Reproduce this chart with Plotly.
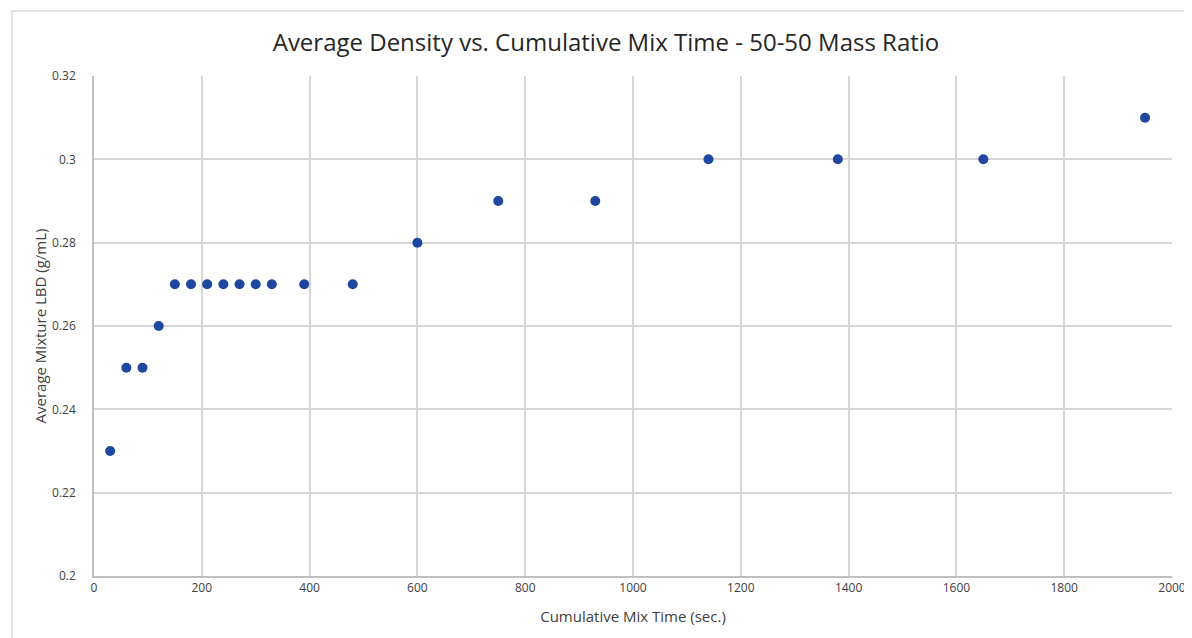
import plotly.graph_objects as go

mix_time = [30, 60, 90, 120, 150, 180, 210, 240, 270, 300, 330, 390, 480, 600, 750, 930, 1140, 1380, 1650, 1950]
density = [0.23, 0.25, 0.25, 0.26, 0.27, 0.27, 0.27, 0.27, 0.27, 0.27, 0.27, 0.27, 0.27, 0.28, 0.29, 0.29, 0.30, 0.30, 0.30, 0.31]

x_ticks = [0, 200, 400, 600, 800, 1000, 1200, 1400, 1600, 1800, 2000]
y_ticks = [0.2, 0.22, 0.24, 0.26, 0.28, 0.3, 0.32]
y_labels = ["0.2", "0.22", "0.24", "0.26", "0.28", "0.3", "0.32"]

OFF = 8  # browser body margin
W, H = 1192 - OFF, 638 - OFF
L, R, T, B = 94 - OFF, 1172 - OFF, 76 - OFF, 576 - OFF

fig = go.Figure(go.Scatter(
    x=mix_time, y=density, mode="markers",
    marker=dict(color="#1F47A0", size=10, line=dict(width=0)),
    showlegend=False,
))

font = "Open Sans, Liberation Sans, sans-serif"
fig.update_layout(
    width=W, height=H,
    margin=dict(l=L, r=W - R, t=T, b=H - B, pad=0, autoexpand=False),
    paper_bgcolor="white", plot_bgcolor="white",
    font=dict(family=font, color="#404040", size=12),
    title=dict(text="Average Density vs. Cumulative Mix Time - 50-50 Mass Ratio",
               x=(606 - OFF) / W, xanchor="center", xref="container",
               y=1 - (43 - OFF) / H, yanchor="middle", yref="container",
               font=dict(size=24, color="#262626", family=font)),
    xaxis=dict(range=[0, 2000], tickvals=x_ticks, showgrid=True, gridcolor="#D6D6D6",
               gridwidth=1.5, zeroline=False, showline=True, linecolor="#BFBFBF", linewidth=1.5,
               ticks="", tickfont=dict(size=12, color="#404040"), automargin=False,
               title=dict(text="Cumulative Mix Time (sec.)", font=dict(size=15, color="#404040"), standoff=16)),
    yaxis=dict(range=[0.2, 0.32], tickvals=y_ticks, ticktext=y_labels, showgrid=True,
               gridcolor="#D6D6D6", gridwidth=1.5, zeroline=False, showline=True,
               linecolor="#BFBFBF", linewidth=1.5, ticks="", ticklabelstandoff=14,
               tickfont=dict(size=12, color="#404040"), automargin=False,
               title=dict(text="Average Mixture LBD (g/mL)", font=dict(size=15, color="#404040"), standoff=2)),
    shapes=[dict(type="rect", xref="paper", yref="paper",
                 x0=(12 - OFF - L) / (R - L), x1=(1210 - L) / (R - L),
                 y0=(B - 660) / (B - T), y1=(B - (11 - OFF)) / (B - T),
                 line=dict(color="#D9D9D9", width=1.5), fillcolor="rgba(0,0,0,0)", layer="below")],
)

fig.write_html("out.html")
